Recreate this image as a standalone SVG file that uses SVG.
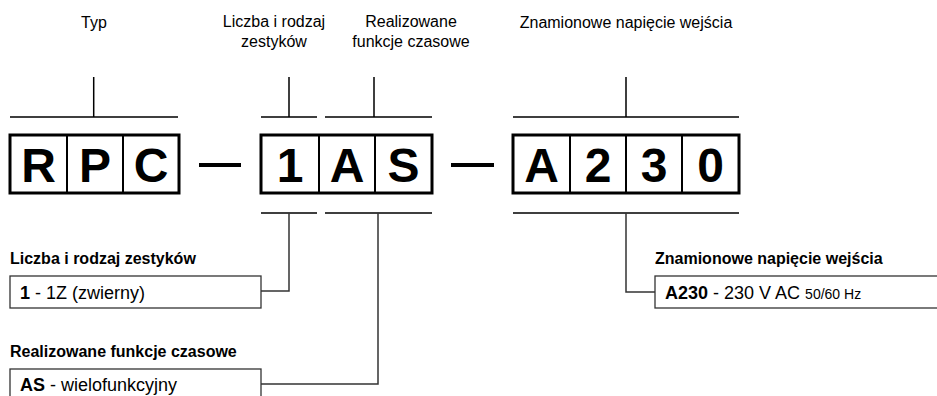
<svg xmlns="http://www.w3.org/2000/svg" width="937" height="396" viewBox="0 0 937 396">
<style>
text{font-family:"Liberation Sans",Arial,sans-serif;fill:#000}
.lbl{font-size:16px;text-anchor:middle}
.big{font-size:48px;font-weight:bold;text-anchor:middle}
.hd{font-size:16px;font-weight:bold}
.bt{font-size:18px}
.b{font-weight:bold}
.sm{font-size:14px}
.cell{fill:#fff;stroke:#000;stroke-width:2}
.outer{fill:none;stroke:#000;stroke-width:3}
.ln{stroke:#000;stroke-width:1.5;fill:none}
.cn{stroke:#333;stroke-width:1.5;fill:none}
.ib{fill:#fff;stroke:#333;stroke-width:1.3}
.dash{stroke:#000;stroke-width:4}
</style>
<g id="labels-top">
<text class="lbl" x="94" y="28">Typ</text>
<text class="lbl" x="274" y="27">Liczba i rodzaj</text>
<text class="lbl" x="274" y="47">zestyków</text>
<text class="lbl" x="411" y="27">Realizowane</text>
<text class="lbl" x="411" y="47">funkcje czasowe</text>
<text class="lbl" x="626" y="28">Znamionowe napięcie wejścia</text>
</g>
<g id="code-RPC">
<rect class="cell" x="10" y="135" width="57" height="58"/>
<rect class="cell" x="67" y="135" width="56" height="58"/>
<rect class="cell" x="123" y="135" width="56" height="58"/>
<rect class="outer" x="10" y="135" width="169" height="58"/>
<text class="big" x="38.5" y="182">R</text>
<text class="big" x="95" y="182">P</text>
<text class="big" x="151" y="182">C</text>
</g>
<g id="code-1AS">
<rect class="cell" x="261" y="135" width="58" height="58"/>
<rect class="cell" x="319" y="135" width="56" height="58"/>
<rect class="cell" x="375" y="135" width="57" height="58"/>
<rect class="outer" x="261" y="135" width="171" height="58"/>
<text class="big" x="290" y="182">1</text>
<text class="big" x="347" y="182">A</text>
<text class="big" x="403.5" y="182">S</text>
</g>
<g id="code-A230">
<rect class="cell" x="513" y="135" width="57" height="58"/>
<rect class="cell" x="570" y="135" width="56" height="58"/>
<rect class="cell" x="626" y="135" width="56" height="58"/>
<rect class="cell" x="682" y="135" width="57" height="58"/>
<rect class="outer" x="513" y="135" width="226" height="58"/>
<text class="big" x="541.5" y="182">A</text>
<text class="big" x="598" y="182">2</text>
<text class="big" x="654" y="182">3</text>
<text class="big" x="710.5" y="182">0</text>
</g>
<g id="dashes">
<line class="dash" x1="199" y1="165" x2="241" y2="165"/>
<line class="dash" x1="451" y1="165" x2="494" y2="165"/>
</g>
<g id="info-contacts">
<text class="hd" x="10" y="264">Liczba i rodzaj zestyków</text>
<rect class="ib" x="10" y="276" width="251" height="32"/>
<text class="bt" x="20" y="299"><tspan class="b">1</tspan> - 1Z (zwierny)</text>
</g>
<g id="info-functions">
<text class="hd" x="10" y="357">Realizowane funkcje czasowe</text>
<rect class="ib" x="10" y="369" width="251" height="40"/>
<text class="bt" x="20" y="391"><tspan class="b">AS</tspan> - wielofunkcyjny</text>
</g>
<g id="info-voltage">
<text class="hd" x="655" y="264">Znamionowe napięcie wejścia</text>
<rect class="ib" x="655" y="276" width="300" height="32"/>
<text class="bt" x="665" y="299"><tspan class="b">A230</tspan> - 230 V AC <tspan class="sm">50/60 Hz</tspan></text>
</g>
<g id="connectors">
<path class="ln" d="M10 117H178M93.7 77V117"/>
<path class="ln" d="M261 117H317M289 77V117"/>
<path class="ln" d="M325 117H432M374 77V117"/>
<path class="ln" d="M513 117H739M626 77V117"/>
<path class="ln" d="M261 213H317M325 213H432M513 213H739"/>
<path class="cn" d="M289 213V291H261"/>
<path class="cn" d="M378 213V384H261"/>
<path class="cn" d="M626 213V292H655"/>
</g>
</svg>
